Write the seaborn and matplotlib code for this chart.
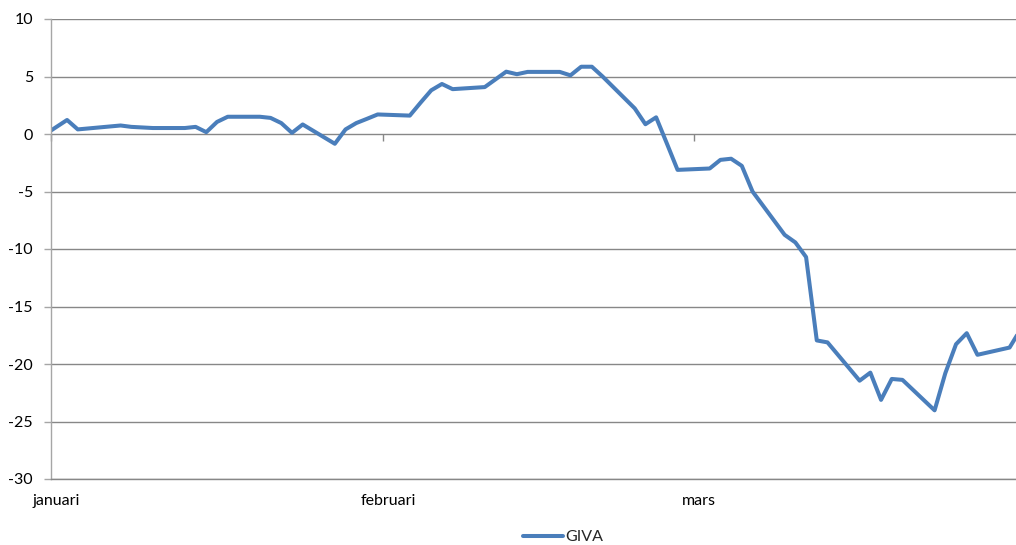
import pandas as pd
import matplotlib.pyplot as plt
import seaborn as sns

# GIVA, change since year-end (%), 2020
dates = [
    "2019-12-31", "2020-01-02", "2020-01-03", "2020-01-07", "2020-01-08", "2020-01-09",
    "2020-01-10", "2020-01-13", "2020-01-14", "2020-01-15", "2020-01-16", "2020-01-17",
    "2020-01-20", "2020-01-21", "2020-01-22", "2020-01-23", "2020-01-24", "2020-01-27",
    "2020-01-28", "2020-01-29", "2020-01-30", "2020-01-31", "2020-02-03", "2020-02-04",
    "2020-02-05", "2020-02-06", "2020-02-07", "2020-02-10", "2020-02-11", "2020-02-12",
    "2020-02-13", "2020-02-14", "2020-02-17", "2020-02-18", "2020-02-19", "2020-02-20",
    "2020-02-21", "2020-02-24", "2020-02-25", "2020-02-26", "2020-02-27", "2020-02-28",
    "2020-03-02", "2020-03-03", "2020-03-04", "2020-03-05", "2020-03-06", "2020-03-09",
    "2020-03-10", "2020-03-11", "2020-03-12", "2020-03-13", "2020-03-16", "2020-03-17",
    "2020-03-18", "2020-03-19", "2020-03-20", "2020-03-23", "2020-03-24", "2020-03-25",
    "2020-03-26", "2020-03-27", "2020-03-30", "2020-03-31",
]
giva = [
    0.0, 1.22, 0.4, 0.74, 0.62, 0.57,
    0.52, 0.52, 0.62, 0.16, 1.05, 1.5,
    1.5, 1.4, 0.95, 0.1, 0.83, -0.85,
    0.4, 0.95, 1.32, 1.7, 1.6, 2.72,
    3.8, 4.35, 3.9, 4.08, 4.75, 5.42,
    5.2, 5.4, 5.4, 5.1, 5.85, 5.85,
    5.0, 2.23, 0.85, 1.45, -0.82, -3.12,
    -3.0, -2.25, -2.15, -2.77, -5.0, -8.77,
    -9.43, -10.7, -17.95, -18.12, -21.45, -20.75,
    -23.12, -21.3, -21.38, -24.03, -20.8, -18.28,
    -17.32, -19.2, -18.57, -17.03,
]
month_labels = ["januari", "februari", "mars"]
month_starts = ["2020-01-01", "2020-02-01", "2020-03-01"]

start = pd.Timestamp("2020-01-01")
df = pd.DataFrame({"date": pd.to_datetime(dates), "GIVA": giva})
# each day occupies one slot; points sit in the middle of their day
df["day"] = (df["date"] - start).dt.days + 0.5
month_pos = [(pd.Timestamp(m) - start).days for m in month_starts]

sns.set_theme(style="white")
plt.rcParams['font.family'] = ['Lato', 'DejaVu Sans']
plt.rcParams['axes.unicode_minus'] = False

fig = plt.figure(figsize=(10.16, 5.45), dpi=100)
ax = fig.add_axes([51 / 1016, 66 / 545, 965 / 1016, 460 / 545])

grid_col = "#878787"
sns.lineplot(data=df, x="day", y="GIVA", ax=ax, color="#4A7EBB", linewidth=2.9,
             label="GIVA", legend=False, solid_joinstyle="round", solid_capstyle="round")

ax.set_xlim(0, 90.1)
ax.set_ylim(-30, 10)
ax.set_yticks(range(-30, 11, 5))
ax.yaxis.grid(True, color=grid_col, linewidth=1)
ax.xaxis.grid(False)
ax.set_xlabel("")
ax.set_ylabel("")

for side in ["top", "right"]:
    ax.spines[side].set_visible(False)
ax.spines["left"].set_color("#A6A6A6")
ax.spines["bottom"].set_color(grid_col)
ax.spines["left"].set_linewidth(1)
ax.spines["bottom"].set_linewidth(1)

ax.tick_params(axis="y", left=True, direction="out", length=5, width=1, color="#A6A6A6",
               pad=8, labelsize=11.5, labelcolor="black")
# month labels at the bottom, centred on the first day of each month
ax.set_xticks([p + 0.5 for p in month_pos])
ax.set_xticklabels(month_labels)
ax.tick_params(axis="x", bottom=True, length=0, pad=11, labelsize=11.5, labelcolor="black")

# category axis crosses at 0: tick marks at the month boundaries
sec = ax.secondary_xaxis(0.75)
sec.set_xticks(month_pos)
sec.tick_params(axis="x", direction="out", length=5, width=1, color=grid_col,
                labelbottom=False, labeltop=False, bottom=True, top=False)
for sp in sec.spines.values():
    sp.set_visible(False)

handles, labels = ax.get_legend_handles_labels()
fig.legend(handles, labels, loc="center", bbox_to_anchor=(563 / 1016, 1 - 537 / 545),
           frameon=False, fontsize=11.5, handlelength=2.5, handletextpad=0.1)

fig.savefig("out.png", dpi=100)
